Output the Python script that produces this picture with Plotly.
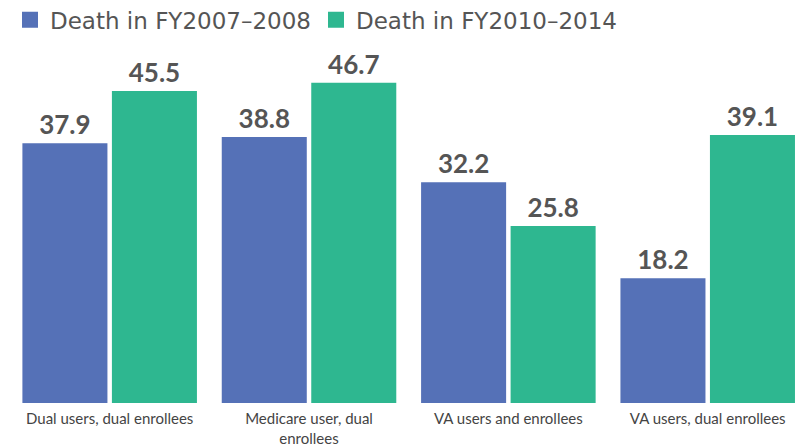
import plotly.graph_objects as go

categories = ["Dual users, dual enrollees", "Medicare user, dual<br>enrollees",
              "VA users and enrollees", "VA users, dual enrollees"]
series_names = ["Death in FY2007–2008", "Death in FY2010–2014"]
deaths_0708 = [37.9, 38.8, 32.2, 18.2]
deaths_1014 = [45.5, 46.7, 25.8, 39.1]
colors = ["#5571b7", "#2eb790"]

fig = go.Figure()
for name, vals, col in zip(series_names, [deaths_0708, deaths_1014], colors):
    fig.add_trace(go.Bar(
        x=categories, y=vals, name=name, marker_color=col, marker_line_width=0,
        text=[f"{v:.1f}" for v in vals], textposition="outside",
        textfont=dict(family="Lato", size=26, color="#555555", weight="bold"),
        cliponaxis=False, showlegend=False,
    ))
    fig.add_trace(go.Scatter(
        x=[None], y=[None], mode="markers", name=name,
        marker=dict(symbol="square", size=18, color=col),
    ))

fig.update_layout(
    width=804, height=445,
    margin=dict(l=2, r=12, t=32, b=50, autoexpand=False),
    paper_bgcolor="white", plot_bgcolor="white",
    barmode="group", bargap=0.102, bargroupgap=0.05,
    font=dict(family="Lato", color="#555555"),
    legend=dict(orientation="h", x=0, xanchor="left",
                y=1.115, yanchor="top",
                font=dict(family="DejaVu Sans", size=23, color="#555555"),
                itemsizing="trace", traceorder="normal"),
    xaxis=dict(range=[-0.5, 3.463], showgrid=False, showline=False, ticks="",
               automargin=False, ticklabelstandoff=5,
               tickfont=dict(family="Lato", size=15, color="#444444")),
    yaxis=dict(range=[0, 52.94], visible=False, automargin=False),
)

fig.write_html("out.html")
